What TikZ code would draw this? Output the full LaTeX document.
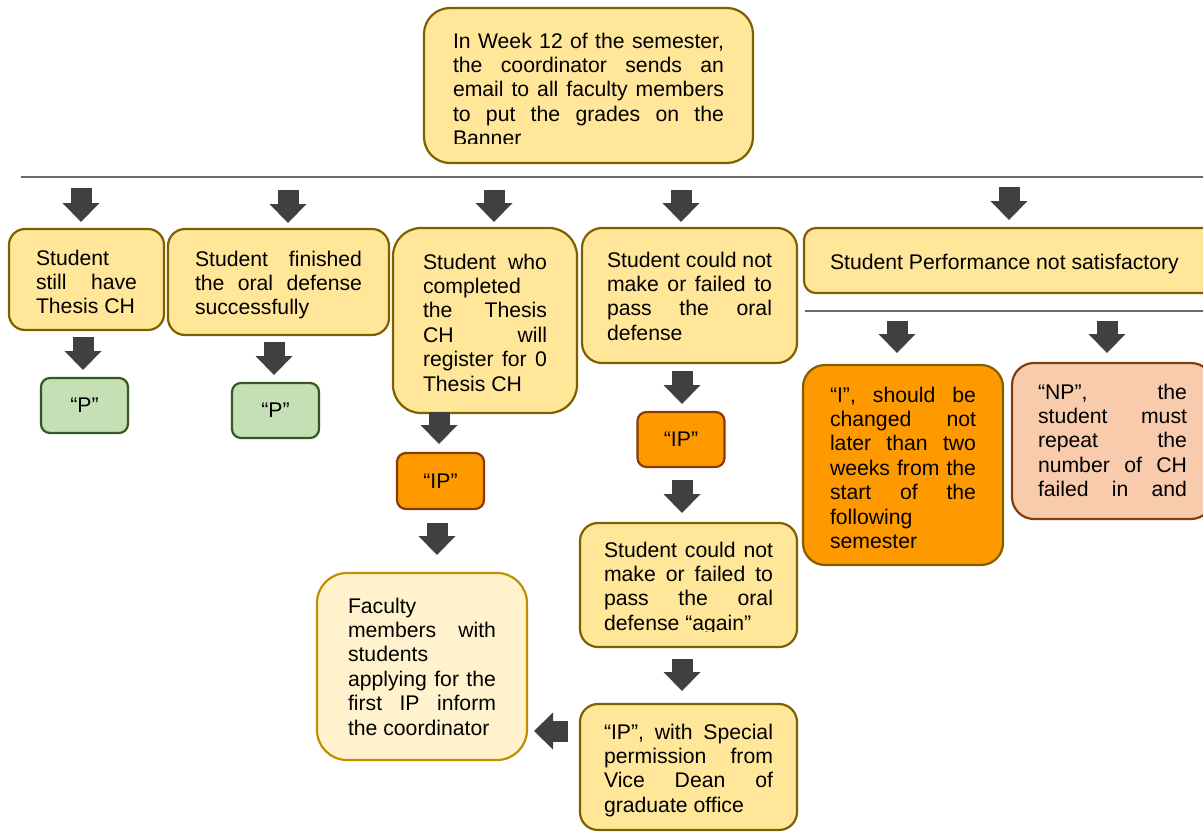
\documentclass[tikz,border=0pt]{standalone}
\usepackage{fontspec}
\setmainfont{Liberation Sans}
\usetikzlibrary{arrows.meta,calc}
\definecolor{yfill}{HTML}{FFE699}
\definecolor{ydraw}{HTML}{7F6000}
\definecolor{gfill}{HTML}{C5E0B4}
\definecolor{gdraw}{HTML}{385723}
\definecolor{ofill}{HTML}{FF9900}
\definecolor{odraw}{HTML}{843C0C}
\definecolor{pfill}{HTML}{F8CBAD}
\definecolor{lfill}{HTML}{FFF2CC}
\definecolor{ldraw}{HTML}{BF9000}
\definecolor{agray}{HTML}{404040}
\definecolor{lgray}{HTML}{6A6A6A}
\newcommand{\bxt}[3]{\parbox[t][#2][t]{#1}{\strut #3}}
\tikzset{
  basebox/.style={anchor=north west, line width=2.2pt, outer sep=0pt, text=black,
    font=\fontsize{21.2}{24.4}\selectfont},
  ybox/.style={basebox, draw=ydraw, fill=yfill},
  gbox/.style={basebox, draw=gdraw, fill=gfill, anchor=center, inner sep=0pt,
    minimum width=87pt, minimum height=55pt, rounded corners=9pt},
  obox/.style={basebox, draw=odraw, fill=ofill, anchor=center, inner sep=0pt,
    minimum width=87pt, minimum height=56pt, rounded corners=9pt},
  ibox/.style={basebox, draw=ydraw, fill=ofill},
  npbox/.style={basebox, draw=odraw, fill=pfill},
  fbox/.style={basebox, draw=ldraw, fill=lfill},
  blk/.style={draw=agray, line width=21pt,
    -{Triangle[width=37pt,length=19pt,line width=0pt]}},
  hl/.style={draw=lgray, line width=1.3pt},
  cutoff/.style={fill=yfill, draw=none},
}
\begin{document}
\begin{tikzpicture}[x=1pt,y=-1pt]
\useasboundingbox (0,0) rectangle (1203,833);
\fill[white] (0,0) rectangle (1203,833);

% separator lines
\coordinate (h1a) at (21,177);
\coordinate (h1b) at (1203,177);
\coordinate (h2a) at (805,311);
\coordinate (h2b) at (1203,311);
\draw[hl] (h1a) -- (h1b);
\draw[hl] (h2a) -- (h2b);

% top box
\node[ybox, rounded corners=26pt, inner xsep=29pt, inner ysep=23pt] (top) at (424,8)
  {\bxt{271pt}{109pt}{In Week 12 of the semester,\linebreak the coordinator sends an\linebreak email to all faculty members\linebreak to put the grades on the\linebreak Banner}};
\fill[cutoff] (450,143.5) rectangle (728,152);

% row of cases
\node[ybox, rounded corners=16pt, inner xsep=27pt, inner ysep=19pt] (s1) at (9,229)
  {\bxt{101pt}{63pt}{Student\linebreak still have\linebreak Thesis CH}};
\node[ybox, rounded corners=17pt, inner xsep=27pt, inner ysep=20pt] (s2) at (168,229)
  {\bxt{167pt}{66pt}{Student finished\linebreak the oral defense\linebreak successfully}};
\node[ybox, rounded corners=28pt, inner xsep=30pt, inner ysep=24pt] (s3) at (393,228)
  {\bxt{124pt}{137pt}{Student who\linebreak completed\linebreak the Thesis\linebreak CH will\linebreak register for 0\linebreak Thesis CH}};
\node[ybox, rounded corners=20pt, inner xsep=25pt, inner ysep=22pt] (s4) at (582,228)
  {\bxt{165pt}{91pt}{Student could not\linebreak make or failed to\linebreak pass the oral\linebreak defense}};
\node[ybox, rounded corners=12pt, inner xsep=26pt, inner ysep=24pt] (s5) at (804,228)
  {\bxt{359pt}{17pt}{Student Performance not satisfactory}};

% grades
\node[gbox] (p1) at (84.5,405.5) {“P”};
\node[gbox] (p2) at (275.5,410.5) {“P”};
\node[obox] (ip1) at (440.5,481) {“IP”};
\node[obox, minimum height=55pt] (ip2) at (681,439.5) {“IP”};

\node[ibox, rounded corners=22pt, inner xsep=27pt, inner ysep=20pt] (ib) at (803,365)
  {\bxt{146pt}{160pt}{“I”, should be\linebreak changed not\linebreak later than two\linebreak weeks from the\linebreak start of the\linebreak following\linebreak semester}};
\node[npbox, rounded corners=22pt, inner xsep=26pt, inner ysep=19pt] (np) at (1012,363)
  {\bxt{149pt}{118pt}{“NP”, the\linebreak student must\linebreak repeat the\linebreak number of CH\linebreak failed in and\linebreak}};

\node[fbox, rounded corners=30pt, inner xsep=31pt, inner ysep=23pt] (fac) at (317,573)
  {\bxt{148pt}{141pt}{Faculty\linebreak members with\linebreak students\linebreak applying for the\linebreak first IP inform\linebreak the coordinator}};
\node[ybox, rounded corners=18pt, inner xsep=24pt, inner ysep=17pt] (ag) at (580,523)
  {\bxt{169pt}{90pt}{Student could not\linebreak make or failed to\linebreak pass the oral\linebreak defense “again”}};
\fill[cutoff] (600,632) rectangle (776,640);
\node[ybox, rounded corners=18pt, inner xsep=24pt, inner ysep=18pt] (ips) at (580,704)
  {\bxt{169pt}{90pt}{“IP”, with Special\linebreak permission from\linebreak Vice Dean of\linebreak graduate office}};

% block arrows from the separator line to the cases
\draw[blk] ($(s1.north)+(-5.5,-41)$) -- ($(s1.north)+(-5.5,-7)$);
\draw[blk] ($(s2.north)+(9.5,-39)$) -- ($(s2.north)+(9.5,-6)$);
\draw[blk] ($(s3.north)+(9,-38)$) -- ($(s3.north)+(9,-6)$);
\draw[blk] ($(s4.north)+(-8.5,-38)$) -- ($(s4.north)+(-8.5,-6)$);
\draw[blk] ($(s5.north)+(-0.5,-41)$) -- ($(s5.north)+(-0.5,-8)$);
\draw[blk] ($(ib.north)+(-6,-44)$) -- ($(ib.north)+(-6,-12)$);
\draw[blk] ($(np.north)+(-5.5,-42)$) -- ($(np.north)+(-5.5,-10)$);

% block arrows between boxes
\draw[blk] ($(s1.south)+(-3.5,7)$) coordinate (t1) -- ([yshift=8pt]t1 |- p1.north);
\draw[blk] ($(s2.south)+(-4.5,7)$) coordinate (t2) -- ([yshift=8pt]t2 |- p2.north);
\draw[blk] ($(s3.south)+(-46,-1)$) coordinate (t3) -- ([yshift=9pt]t3 |- ip1.north);
\draw[blk] ($(ip1.south)+(-3.5,14)$) coordinate (t4) -- ([yshift=18pt]t4 |- fac.north);
\draw[blk] ($(s4.south)+(-7.5,8)$) coordinate (t5) -- ([yshift=8pt]t5 |- ip2.north);
\draw[blk] ($(ip2.south)+(1,13)$) coordinate (t6) -- ([yshift=10pt]t6 |- ag.north);
\draw[blk] ($(ag.south)+(-6.5,12)$) coordinate (t7) -- ([yshift=13pt]t7 |- ips.north);
\draw[blk] ($(ips.west)+(-12,-36)$) coordinate (t8) -- ([xshift=7pt]t8 -| fac.east);
\end{tikzpicture}
\end{document}
